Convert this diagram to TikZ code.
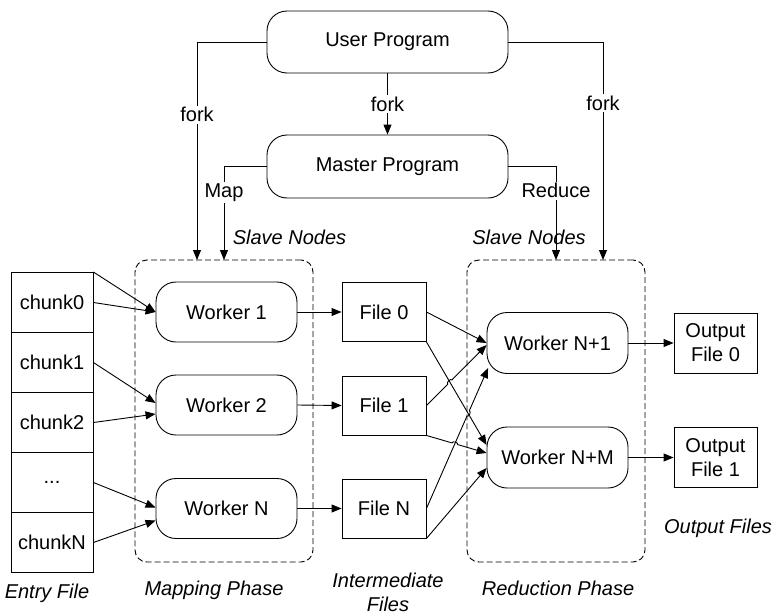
\documentclass[tikz,border=0pt]{standalone}
\usepackage{fontspec}
\setmainfont{Liberation Sans}
\usetikzlibrary{arrows.meta,calc}
\begin{document}
\begin{tikzpicture}[x=1pt,y=-1pt,
  font=\fontsize{20}{24}\selectfont, line width=0.9pt,
  rbox/.style={draw, rounded corners=20pt, minimum width=141pt, minimum height=60pt, inner sep=0pt},
  fbox/.style={draw, minimum width=84pt, minimum height=59pt, inner sep=0pt, align=center},
  arr/.style={-{Triangle[length=10pt,width=8pt]}},
  lbl/.style={fill=white, inner sep=1.5pt},
  captxt/.style={font=\fontsize{20}{24}\selectfont\itshape, align=center},
  phase/.style={draw, rounded corners=12pt, dash pattern=on 6pt off 3pt, minimum width=178pt, minimum height=302pt, inner sep=0pt}]
\useasboundingbox (0,0) rectangle (777,616);

% top programs
\node[rbox, minimum width=241pt, minimum height=62pt] (user) at (387.5,42) {User Program};
\node[rbox, minimum width=241pt, minimum height=63pt] (master) at (387.5,166.5) {Master Program};

% phase boxes
\node[phase] (mapph) at (224,411) {};
\node[phase] (redph) at (556,411) {};

\coordinate (forkL) at (197,260);
\coordinate (mapE) at (224,260);
\coordinate (redE) at (556,260);
\coordinate (forkR) at (603,260);

\draw[arr] (user.south) -- node[lbl] {fork} (master.north);
\draw[arr] (user.west) -| node[lbl, pos=0.667] {fork} (forkL);
\draw[arr] (user.east) -| node[lbl, pos=0.64] {fork} (forkR);
\draw[arr] (master.west) -| node[lbl, pos=0.64] {Map} (mapE);
\draw[arr] (master.east) -| node[lbl, pos=0.63] {Reduce} (redE);

\node[captxt, anchor=west] (slave1) at (229,237) {Slave Nodes};
\node[captxt] (slave2) at (529,237) {Slave Nodes};

% entry file chunks
\node[fbox, minimum width=82pt, minimum height=60pt] (c0) at (52,302.5) {chunk0};
\node[fbox, minimum width=82pt, minimum height=60pt] (c1) at (52,362.5) {chunk1};
\node[fbox, minimum width=82pt, minimum height=60pt] (c2) at (52,422.5) {chunk2};
\node[fbox, minimum width=82pt, minimum height=60pt] (c3) at (52,482.5) {...};
\node[fbox, minimum width=82pt, minimum height=60pt] (c4) at (52,542.5) {chunkN};

% workers
\node[rbox] (w1) at (226.5,312) {Worker 1};
\node[rbox] (w2) at (226.5,405) {Worker 2};
\node[rbox] (wN) at (226.5,508.5) {Worker N};

% intermediate files
\node[fbox] (f0) at (384,312) {File 0};
\node[fbox] (f1) at (384,405.5) {File 1};
\node[fbox] (fN) at (384,508.5) {File N};

% reducers
\node[rbox, minimum height=61pt] (r1) at (557.5,343) {Worker N+1};
\node[rbox, minimum height=61pt] (rM) at (557.5,457.5) {Worker N+M};

% outputs
\node[fbox, minimum width=83pt, minimum height=60pt] (o0) at (715.5,343) {Output\\File 0};
\node[fbox, minimum width=83pt, minimum height=60pt] (o1) at (715.5,457.5) {Output\\File 1};

% chunk -> worker
\draw[arr] (c0.north east) -- (w1.west);
\draw[arr] (c0.east) -- (w1.west);
\draw[arr] (c1.east) -- ([yshift=2pt]w2.west);
\draw[arr] (c2.east) -- ([yshift=-9pt]w2.west);
\draw[arr] (c3.east) -- ([yshift=1pt]wN.west);
\draw[arr] (c4.east) -- ([yshift=-12pt]wN.west);

% worker -> file
\draw[arr] (w1.east) -- (f0.west);
\draw[arr] (w2.east) -- (f1.west);
\draw[arr] (wN.east) -- (fN.west);

% file -> reducer
\coordinate (rMa) at ([yshift=12.5pt]rM.west);
\coordinate (r1b) at ([yshift=-2pt]r1.west);
\coordinate (rMb) at ([yshift=4.5pt]rM.west);
\coordinate (r1c) at ([xshift=1.5pt,yshift=-25pt]r1.west);
\coordinate (rMc) at ([yshift=-10.5pt]rM.west);

\coordinate (X1) at (intersection of f0.south east--rMa and f1.east--r1b);
\coordinate (X2) at (intersection of f0.south east--rMa and fN.east--r1c);
\coordinate (X3) at (intersection of f1.south east--rMb and fN.east--r1c);

\draw[arr] (f0.east) -- (r1.west);
\draw[arr] (f0.south east) -- (rMa);
\draw[arr] (f1.east) -- ($(X1)!3pt!(f1.east)$) to[bend left=90] ($(X1)!3pt!(r1b)$) -- (r1b);
\draw[arr] (f1.south east) -- ($(X3)!3pt!(f1.south east)$) to[bend left=90] ($(X3)!3pt!(rMb)$) -- (rMb);
\draw[arr] (fN.east) -- ($(X2)!3pt!(fN.east)$) to[bend right=90] ($(X2)!3pt!(r1c)$) -- (r1c);
\draw[arr] (fN.south east) -- (rMc);

% reducer -> output
\draw[arr] (r1.east) -- (o0.west);
\draw[arr] (rM.east) -- (o1.west);

% captions
\node[captxt] (entrycap) at (47,593) {Entry File};
\node[captxt] (mapcap) at (214,590) {Mapping Phase};
\node[captxt] (intcap) at (388,592) {Intermediate\\Files};
\node[captxt] (redcap) at (558,588) {Reduction Phase};
\node[captxt] (outcap) at (718,528) {Output Files};
\end{tikzpicture}
\end{document}
